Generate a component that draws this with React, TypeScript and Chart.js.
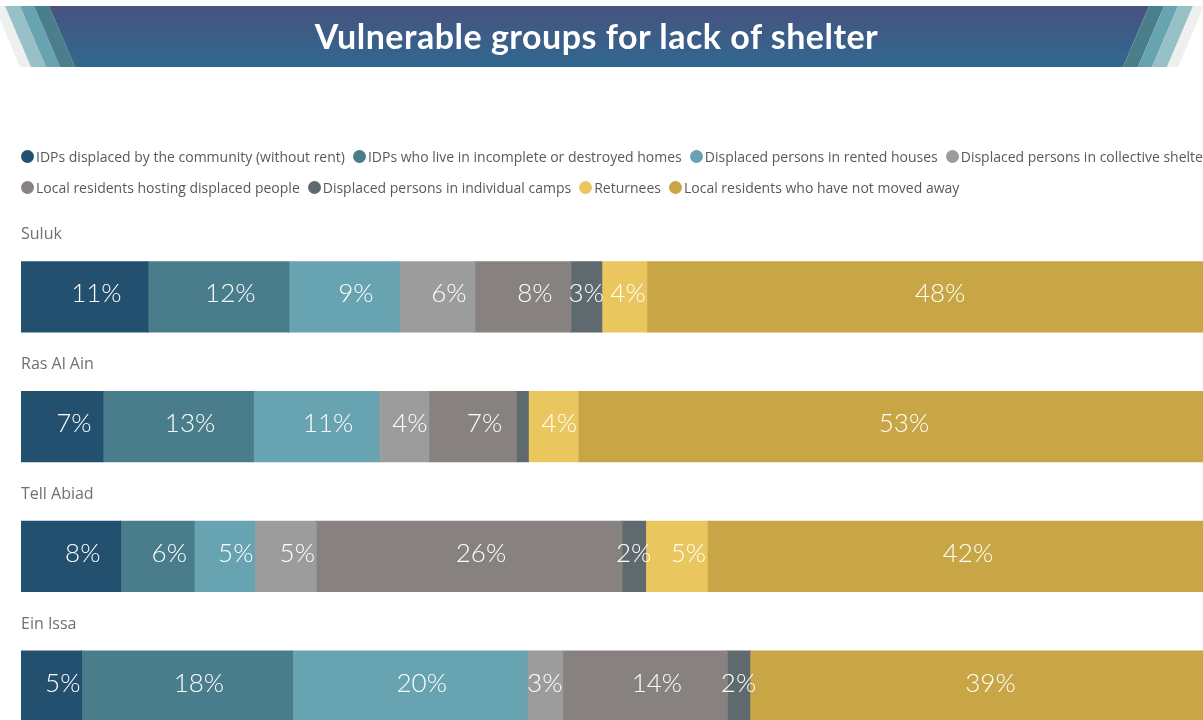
import React, { useEffect, useRef } from "react";
import { Chart, registerables } from "chart.js";

Chart.register(...registerables);

const TITLE = "Vulnerable groups for lack of shelter";

const categories = ["Suluk", "Ras Al Ain", "Tell Abiad", "Ein Issa"];

const seriesNames = [
  "IDPs displaced by the community (without rent)",
  "IDPs who live in incomplete or destroyed homes",
  "Displaced persons in rented houses",
  "Displaced persons in collective shelters",
  "Local residents hosting displaced people",
  "Displaced persons in individual camps",
  "Returnees",
  "Local residents who have not moved away",
];

const seriesColors = [
  "#22506e",
  "#4a7d8c",
  "#68a3b2",
  "#9c9c9c",
  "#87827f",
  "#5e6a6e",
  "#e9c65e",
  "#c8a645",
];

// percentages per category (Suluk, Ras Al Ain, Tell Abiad, Ein Issa)
const idpsCommunity = [10.7, 6.9, 8.4, 5.1];
const idpsIncomplete = [11.9, 12.7, 6.2, 17.8];
const rentedHouses = [9.3, 10.6, 5.1, 19.8];
const collectiveShelters = [6.4, 4.2, 5.2, 3.0];
const hostingResidents = [8.1, 7.4, 25.8, 13.9];
const individualCamps = [2.6, 1.0, 2.0, 1.9];
const returnees = [3.8, 4.2, 5.2, 0];
const notMovedAway = [47.5, 53.0, 42.0, 38.6];

const seriesValues = [
  idpsCommunity,
  idpsIncomplete,
  rentedHouses,
  collectiveShelters,
  hostingResidents,
  individualCamps,
  returnees,
  notMovedAway,
];

const labelsPlugin = {
  id: "segmentLabels",
  afterDatasetsDraw(chart: any) {
    const ctx = chart.ctx as CanvasRenderingContext2D;
    ctx.save();
    ctx.font = "300 26px Lato";
    ctx.fillStyle = "#ffffff";
    ctx.textAlign = "center";
    ctx.textBaseline = "middle";
    chart.data.datasets.forEach((ds: any, di: number) => {
      const meta = chart.getDatasetMeta(di);
      meta.data.forEach((bar: any, i: number) => {
        const v = ds.data[i] as number;
        if (!v || v < 1.5) return;
        const p = bar.getProps(["x", "base", "y"], true);
        const txt = Math.round(v) + "%";
        const tw = ctx.measureText(txt).width;
        const w = p.x - p.base;
        const shift = Math.min(12, Math.max(0, (w - tw) / 2 - 1));
        ctx.fillText(txt, (p.x + p.base) / 2 + shift, p.y - 3);
      });
    });
    const ys = chart.scales.y;
    ctx.font = "16px 'Open Sans'";
    ctx.fillStyle = "#707070";
    ctx.textAlign = "left";
    (chart.data.labels as string[]).forEach((lab, i) => {
      ctx.fillText(lab, chart.chartArea.left, ys.getPixelForValue(i) - 62);
    });
    ctx.restore();
  },
};

function Banner() {
  const g = "#eef0f0";
  const lt = "#97c0c7";
  const t = "#67a3b1";
  const dt = "#4a7e8b";
  return (
    <div style={{ position: "absolute", left: 0, top: 6, width: 1203, height: 61 }}>
      <svg width={1203} height={61} style={{ position: "absolute", left: 0, top: 0 }}>
        <defs>
          <linearGradient id="bannerGrad" x1="0" y1="0" x2="0" y2="1">
            <stop offset="0" stopColor="#47537f" />
            <stop offset="1" stopColor="#30688f" />
          </linearGradient>
        </defs>
        <polygon points="-6,0 5,0 31,61 20,61" fill={g} />
        <polygon points="5,0 20,0 46,61 31,61" fill={lt} />
        <polygon points="20,0 34,0 60,61 46,61" fill={t} />
        <polygon points="34,0 49,0 75,61 60,61" fill={dt} />
        <polygon points="49,0 1149,0 1123,61 75,61" fill="url(#bannerGrad)" />
        <polygon points="1149,0 1164,0 1138,61 1123,61" fill={dt} />
        <polygon points="1164,0 1178,0 1152,61 1138,61" fill={t} />
        <polygon points="1178,0 1193,0 1167,61 1152,61" fill={lt} />
        <polygon points="1193,0 1204,0 1178,61 1167,61" fill={g} />
      </svg>
      <div
        style={{
          position: "absolute",
          left: 0,
          top: -1,
          width: 1193,
          height: 61,
          display: "flex",
          alignItems: "center",
          justifyContent: "center",
          color: "#ffffff",
          fontFamily: "Lato, sans-serif",
          fontWeight: 700,
          fontSize: 34,
          letterSpacing: 0.5,
        }}
      >
        {TITLE}
      </div>
    </div>
  );
}

function Legend() {
  const rows = [seriesNames.slice(0, 4), seriesNames.slice(4)];
  return (
    <div style={{ position: "absolute", left: 21, top: 141 }}>
      {rows.map((row, ri) => (
        <div
          key={ri}
          style={{
            display: "flex",
            alignItems: "center",
            height: 31,
            whiteSpace: "nowrap",
            fontFamily: "'Open Sans', sans-serif",
            fontSize: 14,
            color: "#595959",
          }}
        >
          {row.map((name, j) => {
            const idx = ri * 4 + j;
            return (
              <div key={name} style={{ display: "flex", alignItems: "center", marginRight: 8 }}>
                <span
                  style={{
                    display: "inline-block",
                    width: 13,
                    height: 13,
                    borderRadius: 7,
                    background: seriesColors[idx],
                    marginRight: 2,
                  }}
                />
                <span>{name}</span>
              </div>
            );
          })}
        </div>
      ))}
    </div>
  );
}

export default function App() {
  const canvasRef = useRef<HTMLCanvasElement | null>(null);

  useEffect(() => {
    if (!canvasRef.current) return;
    const chart = new Chart(canvasRef.current, {
      type: "bar",
      data: {
        labels: categories,
        datasets: seriesNames.map((name, i) => ({
          label: name,
          data: seriesValues[i],
          backgroundColor: seriesColors[i],
          borderWidth: 0,
          inflateAmount: 0.6,
          categoryPercentage: 0.6,
          barPercentage: 0.9,
        })),
      },
      options: {
        indexAxis: "y",
        animation: false,
        responsive: true,
        maintainAspectRatio: false,
        layout: { padding: { left: 21, top: 232, right: 34, bottom: 9 } },
        scales: {
          x: { stacked: true, min: 0, max: 100, display: false },
          y: { stacked: true, display: false },
        },
        plugins: {
          legend: { display: false },
          tooltip: { enabled: false },
          title: { display: false },
        },
      },
      plugins: [labelsPlugin],
    });
    return () => chart.destroy();
  }, []);

  return (
    <div
      style={{
        position: "fixed",
        left: 0,
        top: 0,
        width: 1203,
        height: 720,
        overflow: "hidden",
        background: "#ffffff",
      }}
    >
      <div style={{ position: "absolute", left: 0, top: 0, width: 1240, height: 760 }}>
        <canvas ref={canvasRef} />
      </div>
      <Banner />
      <Legend />
    </div>
  );
}
